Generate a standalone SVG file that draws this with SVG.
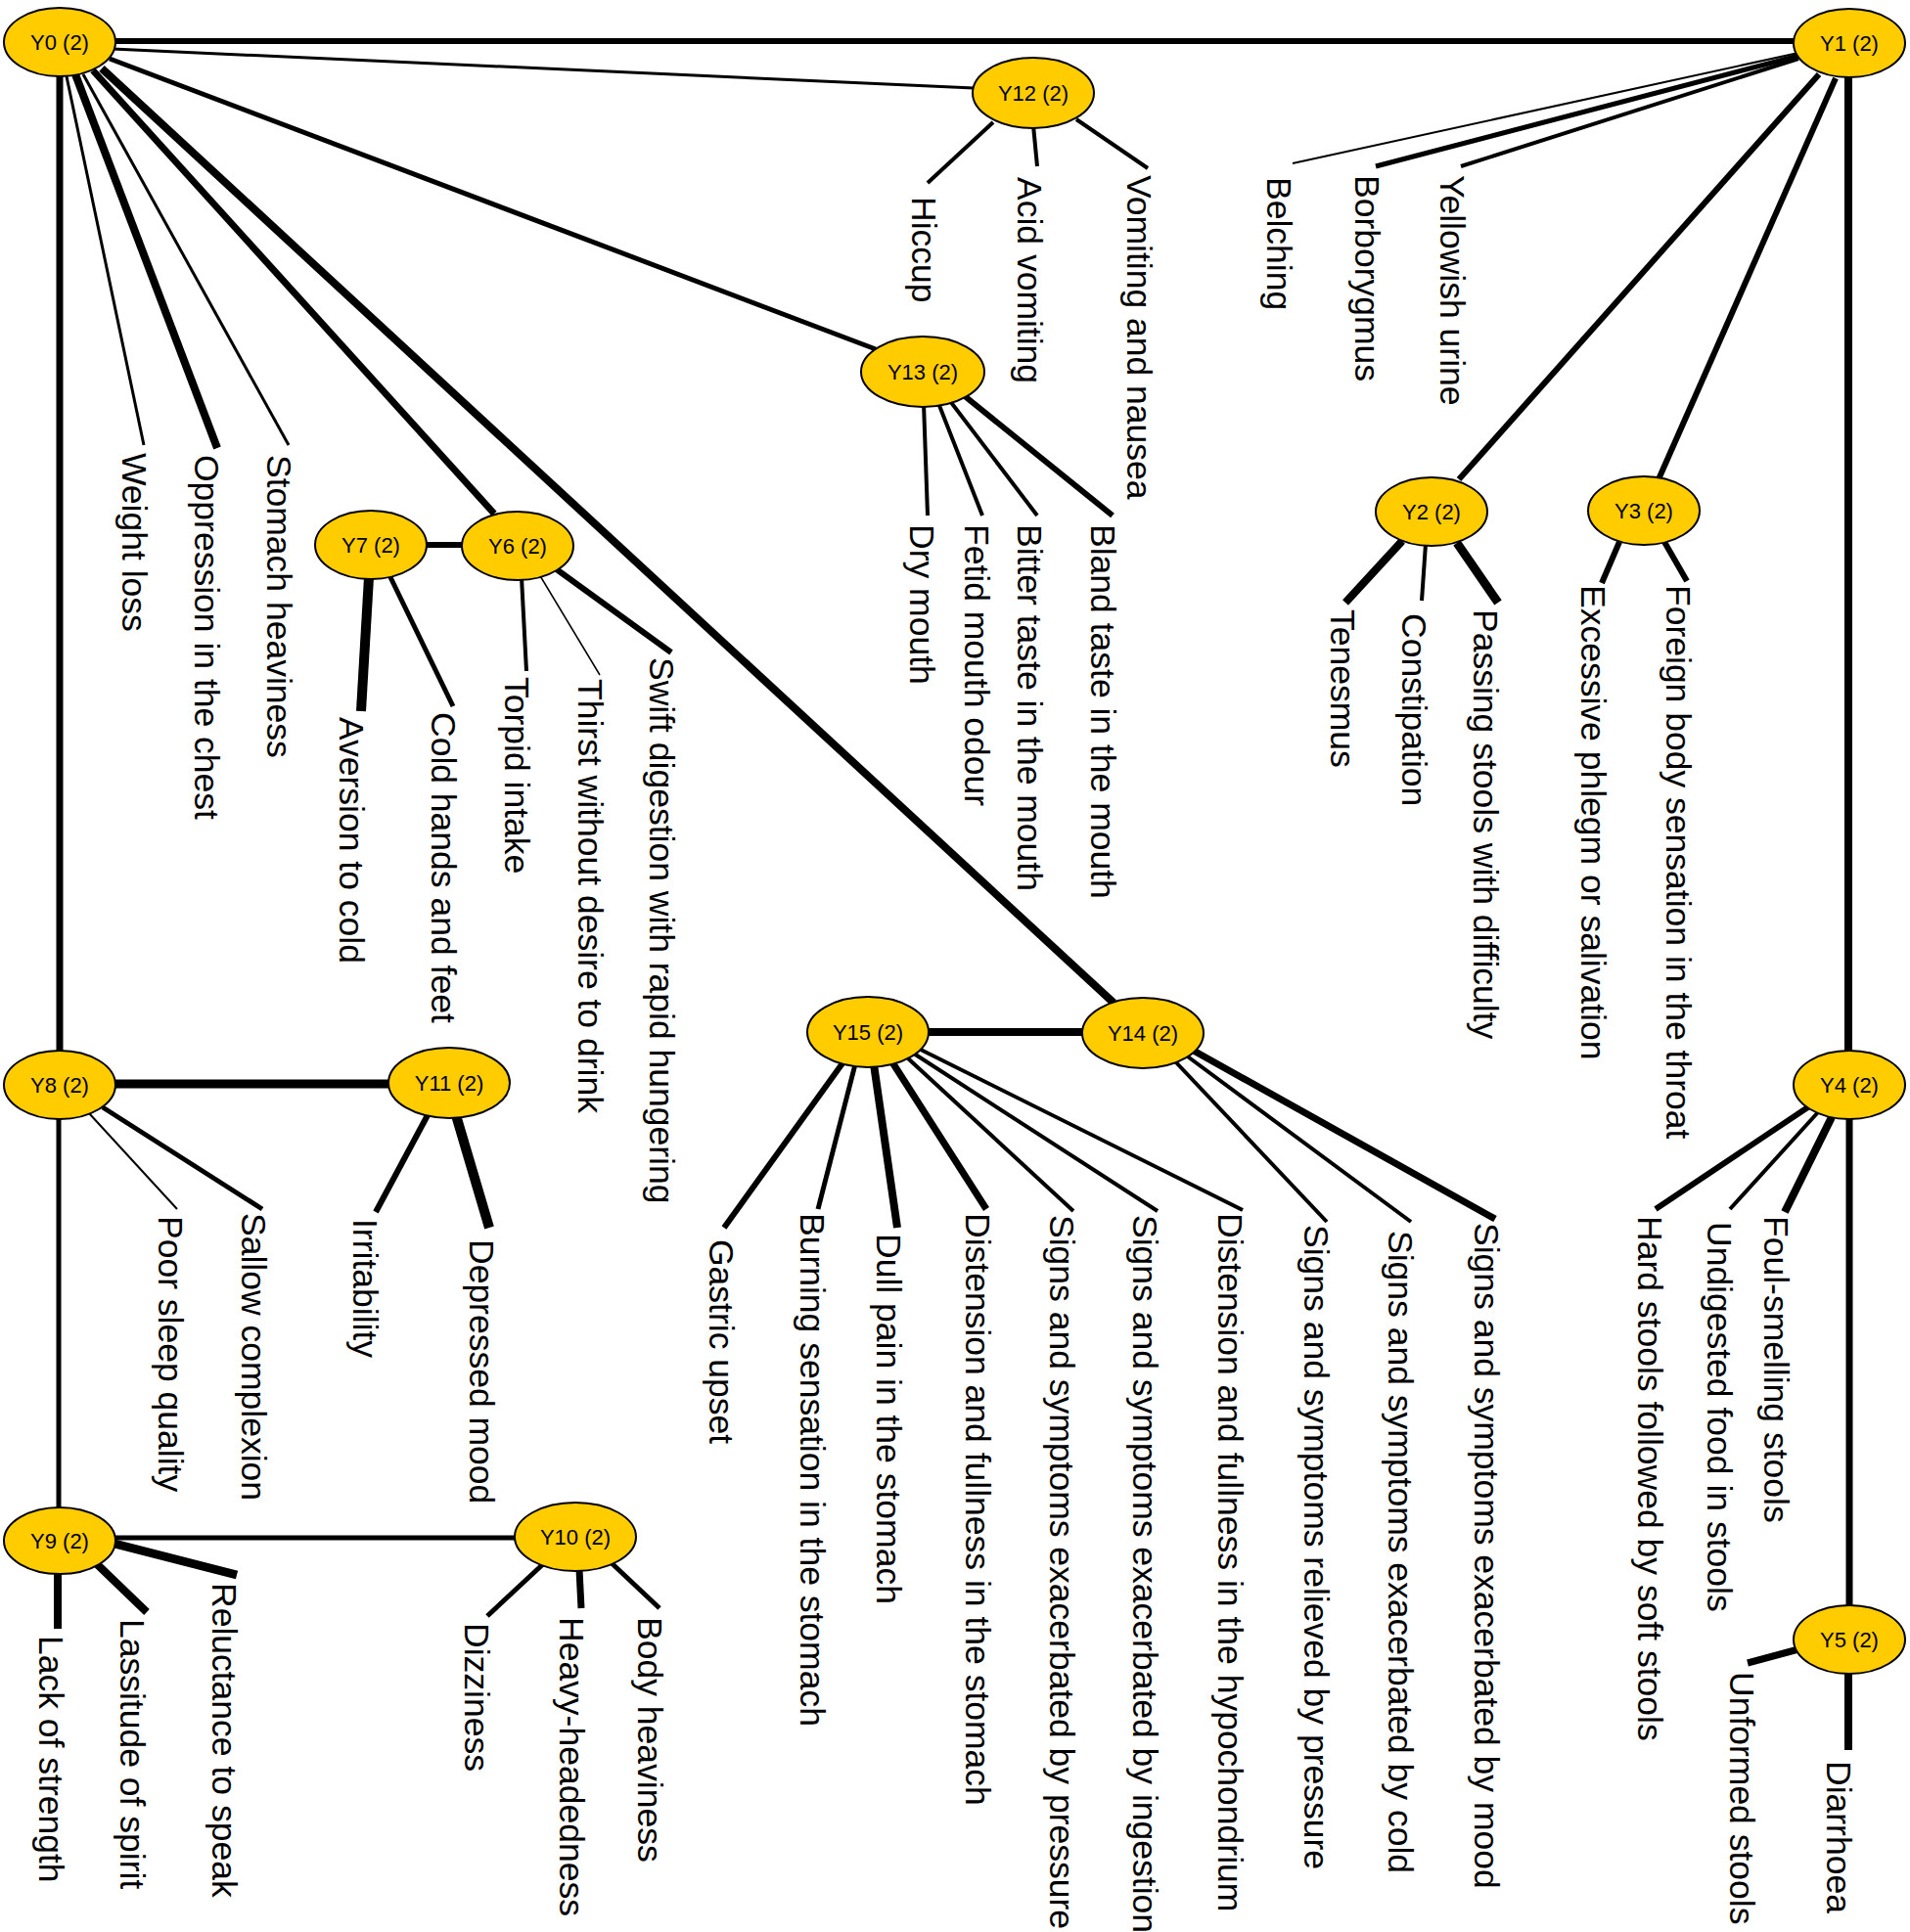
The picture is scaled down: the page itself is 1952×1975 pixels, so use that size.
<svg xmlns="http://www.w3.org/2000/svg" width="1952" height="1975" viewBox="0 0 1952 1975">
<style>
.bg{fill:#fff}
.e line{stroke:#000;stroke-linecap:butt}
.n ellipse{fill:#FFCC00;stroke:#000;stroke-width:2}
.n text{font-family:"Liberation Sans",Arial,sans-serif;font-size:22px;text-anchor:middle;fill:#000}
.lf{font-family:"Liberation Sans",Arial,sans-serif;font-size:35.5px;fill:#000}
</style>
<rect class="bg" x="0" y="0" width="1952" height="1975"/>
<g id="connectors" class="e">
<line x1="100" y1="42" x2="1850" y2="42" stroke-width="6"/>
<line x1="115" y1="50" x2="995" y2="90" stroke-width="3"/>
<line x1="112" y1="60" x2="895" y2="357" stroke-width="5"/>
<line x1="95" y1="72" x2="505" y2="525" stroke-width="7"/>
<line x1="104" y1="70" x2="1138" y2="1025" stroke-width="8"/>
<line x1="61" y1="70" x2="61" y2="1080" stroke-width="7"/>
<line x1="60" y1="1130" x2="60" y2="1550" stroke-width="5"/>
<line x1="100" y1="1108" x2="420" y2="1108" stroke-width="9"/>
<line x1="100" y1="1572" x2="550" y2="1572" stroke-width="5"/>
<line x1="420" y1="557" x2="490" y2="557" stroke-width="6"/>
<line x1="920" y1="1055" x2="1130" y2="1055" stroke-width="8"/>
<line x1="1859" y1="76" x2="1491" y2="490" stroke-width="6"/>
<line x1="1876" y1="80" x2="1695" y2="490" stroke-width="6"/>
<line x1="1889" y1="70" x2="1889" y2="1080" stroke-width="8"/>
<line x1="1890" y1="1130" x2="1890" y2="1650" stroke-width="7"/>
<line x1="68" y1="78" x2="147" y2="455" stroke-width="3"/>
<line x1="77" y1="76" x2="222" y2="458" stroke-width="8"/>
<line x1="85" y1="76" x2="295" y2="455" stroke-width="3"/>
<line x1="1015" y1="125" x2="948" y2="187" stroke-width="4"/>
<line x1="1056" y1="128" x2="1060" y2="170" stroke-width="4"/>
<line x1="1100" y1="122" x2="1173" y2="172" stroke-width="4"/>
<line x1="944" y1="412" x2="948" y2="527" stroke-width="4"/>
<line x1="959" y1="412" x2="1004" y2="527" stroke-width="4"/>
<line x1="971" y1="410" x2="1060" y2="527" stroke-width="4"/>
<line x1="986" y1="405" x2="1137" y2="527" stroke-width="6"/>
<line x1="377" y1="590" x2="369" y2="727" stroke-width="10"/>
<line x1="398" y1="588" x2="463" y2="722" stroke-width="5"/>
<line x1="533" y1="590" x2="538" y2="686" stroke-width="4"/>
<line x1="551" y1="587" x2="613" y2="690" stroke-width="1.5"/>
<line x1="566" y1="580" x2="686" y2="667" stroke-width="6"/>
<line x1="91" y1="1138" x2="181" y2="1236" stroke-width="2"/>
<line x1="105" y1="1132" x2="268" y2="1236" stroke-width="5"/>
<line x1="437" y1="1140" x2="384" y2="1239" stroke-width="6"/>
<line x1="466" y1="1140" x2="500" y2="1255" stroke-width="10"/>
<line x1="59" y1="1600" x2="59" y2="1665" stroke-width="8"/>
<line x1="96" y1="1596" x2="150" y2="1648" stroke-width="8"/>
<line x1="117" y1="1578" x2="242" y2="1610" stroke-width="9"/>
<line x1="556" y1="1598" x2="498" y2="1652" stroke-width="5"/>
<line x1="592" y1="1604" x2="594" y2="1644" stroke-width="7"/>
<line x1="623" y1="1596" x2="674" y2="1644" stroke-width="5"/>
<line x1="861" y1="1087" x2="740" y2="1255" stroke-width="6"/>
<line x1="874" y1="1088" x2="836" y2="1236" stroke-width="5"/>
<line x1="893" y1="1088" x2="917" y2="1255" stroke-width="8"/>
<line x1="912" y1="1086" x2="1008" y2="1236" stroke-width="7"/>
<line x1="928" y1="1082" x2="1097" y2="1238" stroke-width="4"/>
<line x1="934" y1="1077" x2="1183" y2="1238" stroke-width="4"/>
<line x1="941" y1="1073" x2="1270" y2="1237" stroke-width="4"/>
<line x1="1200" y1="1084" x2="1356" y2="1249" stroke-width="4"/>
<line x1="1211" y1="1078" x2="1442" y2="1249" stroke-width="4"/>
<line x1="1218" y1="1073" x2="1528" y2="1246" stroke-width="7"/>
<line x1="1849" y1="1131" x2="1692" y2="1236" stroke-width="6"/>
<line x1="1858" y1="1137" x2="1768" y2="1236" stroke-width="4"/>
<line x1="1872" y1="1142" x2="1824" y2="1239" stroke-width="8"/>
<line x1="1838" y1="1686" x2="1786" y2="1700" stroke-width="7"/>
<line x1="1889" y1="1708" x2="1889" y2="1789" stroke-width="8"/>
<line x1="1838" y1="54" x2="1321" y2="167" stroke-width="2"/>
<line x1="1838" y1="57" x2="1406" y2="170" stroke-width="5"/>
<line x1="1838" y1="60" x2="1493" y2="170" stroke-width="4"/>
<line x1="1433" y1="553" x2="1375" y2="616" stroke-width="8"/>
<line x1="1457" y1="556" x2="1453" y2="614" stroke-width="4"/>
<line x1="1489" y1="555" x2="1531" y2="616" stroke-width="9"/>
<line x1="1655" y1="554" x2="1637" y2="596" stroke-width="6"/>
<line x1="1701" y1="554" x2="1724" y2="594" stroke-width="6"/>
</g>
<g id="Y0" class="n"><ellipse cx="61" cy="43" rx="57" ry="35"/><text x="61" y="43" dy="0.35em">Y0 (2)</text></g>
<g id="Y1" class="n"><ellipse cx="1890" cy="44" rx="57" ry="35"/><text x="1890" y="44" dy="0.35em">Y1 (2)</text></g>
<g id="Y2" class="n"><ellipse cx="1463" cy="523" rx="57" ry="35"/><text x="1463" y="523" dy="0.35em">Y2 (2)</text></g>
<g id="Y3" class="n"><ellipse cx="1680" cy="522" rx="57" ry="35"/><text x="1680" y="522" dy="0.35em">Y3 (2)</text></g>
<g id="Y4" class="n"><ellipse cx="1890" cy="1109" rx="57" ry="35"/><text x="1890" y="1109" dy="0.35em">Y4 (2)</text></g>
<g id="Y5" class="n"><ellipse cx="1890" cy="1676" rx="57" ry="35"/><text x="1890" y="1676" dy="0.35em">Y5 (2)</text></g>
<g id="Y6" class="n"><ellipse cx="529" cy="558" rx="57" ry="35"/><text x="529" y="558" dy="0.35em">Y6 (2)</text></g>
<g id="Y7" class="n"><ellipse cx="379" cy="557" rx="57" ry="35"/><text x="379" y="557" dy="0.35em">Y7 (2)</text></g>
<g id="Y8" class="n"><ellipse cx="61" cy="1109" rx="57" ry="35"/><text x="61" y="1109" dy="0.35em">Y8 (2)</text></g>
<g id="Y9" class="n"><ellipse cx="61" cy="1575" rx="57" ry="34"/><text x="61" y="1575" dy="0.35em">Y9 (2)</text></g>
<g id="Y10" class="n"><ellipse cx="588" cy="1571" rx="62" ry="35"/><text x="588" y="1571" dy="0.35em">Y10 (2)</text></g>
<g id="Y11" class="n"><ellipse cx="459" cy="1107" rx="62" ry="36"/><text x="459" y="1107" dy="0.35em">Y11 (2)</text></g>
<g id="Y12" class="n"><ellipse cx="1056" cy="95" rx="62" ry="36"/><text x="1056" y="95" dy="0.35em">Y12 (2)</text></g>
<g id="Y13" class="n"><ellipse cx="943" cy="380" rx="63" ry="36"/><text x="943" y="380" dy="0.35em">Y13 (2)</text></g>
<g id="Y14" class="n"><ellipse cx="1168" cy="1056" rx="62" ry="36"/><text x="1168" y="1056" dy="0.35em">Y14 (2)</text></g>
<g id="Y15" class="n"><ellipse cx="887" cy="1055" rx="62" ry="36"/><text x="887" y="1055" dy="0.35em">Y15 (2)</text></g>
<g id="labels">
<text class="lf" transform="translate(124.6,463) rotate(90)">Weight loss</text>
<text class="lf" transform="translate(198.6,465) rotate(90)">Oppression in the chest</text>
<text class="lf" transform="translate(272.6,465) rotate(90)">Stomach heaviness</text>
<text class="lf" transform="translate(931.6,201) rotate(90)">Hiccup</text>
<text class="lf" transform="translate(1039.6,181) rotate(90)">Acid vomiting</text>
<text class="lf" transform="translate(1151.6,179) rotate(90)">Vomiting and nausea</text>
<text class="lf" transform="translate(929.6,536) rotate(90)">Dry mouth</text>
<text class="lf" transform="translate(985.6,536) rotate(90)">Fetid mouth odour</text>
<text class="lf" transform="translate(1039.6,536) rotate(90)">Bitter taste in the mouth</text>
<text class="lf" transform="translate(1114.6,536) rotate(90)">Bland taste in the mouth</text>
<text class="lf" transform="translate(346.6,733) rotate(90)">Aversion to cold</text>
<text class="lf" transform="translate(440.6,728) rotate(90)">Cold hands and feet</text>
<text class="lf" transform="translate(515.6,692) rotate(90)">Torpid intake</text>
<text class="lf" transform="translate(590.6,694) rotate(90)">Thirst without desire to drink</text>
<text class="lf" transform="translate(663.6,672) rotate(90)">Swift digestion with rapid hungering</text>
<text class="lf" transform="translate(161.6,1243) rotate(90)">Poor sleep quality</text>
<text class="lf" transform="translate(246.6,1240) rotate(90)">Sallow complexion</text>
<text class="lf" transform="translate(360.6,1246) rotate(90)">Irritability</text>
<text class="lf" transform="translate(479.6,1267) rotate(90)">Depressed mood</text>
<text class="lf" transform="translate(39.6,1672) rotate(90)">Lack of strength</text>
<text class="lf" transform="translate(122.6,1655) rotate(90)">Lassitude of spirit</text>
<text class="lf" transform="translate(216.6,1618) rotate(90)">Reluctance to speak</text>
<text class="lf" transform="translate(474.6,1659) rotate(90)">Dizziness</text>
<text class="lf" transform="translate(571.6,1653) rotate(90)">Heavy-headedness</text>
<text class="lf" transform="translate(651.6,1653) rotate(90)">Body heaviness</text>
<text class="lf" transform="translate(724.6,1267) rotate(90)">Gastric upset</text>
<text class="lf" transform="translate(817.6,1240) rotate(90)">Burning sensation in the stomach</text>
<text class="lf" transform="translate(895.6,1261) rotate(90)">Dull pain in the stomach</text>
<text class="lf" transform="translate(986.6,1240) rotate(90)">Distension and fullness in the stomach</text>
<text class="lf" transform="translate(1072.6,1242) rotate(90)">Signs and symptoms exacerbated by pressure</text>
<text class="lf" transform="translate(1157.6,1242) rotate(90)">Signs and symptoms exacerbated by ingestion</text>
<text class="lf" transform="translate(1244.6,1240) rotate(90)">Distension and fullness in the hypochondrium</text>
<text class="lf" transform="translate(1332.6,1252) rotate(90)">Signs and symptoms relieved by pressure</text>
<text class="lf" transform="translate(1418.6,1258) rotate(90)">Signs and symptoms exacerbated by cold</text>
<text class="lf" transform="translate(1506.6,1250) rotate(90)">Signs and symptoms exacerbated by mood</text>
<text class="lf" transform="translate(1673.6,1243) rotate(90)">Hard stools followed by soft stools</text>
<text class="lf" transform="translate(1744.6,1249) rotate(90)">Undigested food in stools</text>
<text class="lf" transform="translate(1802.6,1243) rotate(90)">Foul-smelling stools</text>
<text class="lf" transform="translate(1767.6,1709) rotate(90)">Unformed stools</text>
<text class="lf" transform="translate(1866.6,1800) rotate(90)">Diarrhoea</text>
<text class="lf" transform="translate(1294.6,181) rotate(90)">Belching</text>
<text class="lf" transform="translate(1384.6,179) rotate(90)">Borborygmus</text>
<text class="lf" transform="translate(1471.6,179) rotate(90)">Yellowish urine</text>
<text class="lf" transform="translate(1359.6,623) rotate(90)">Tenesmus</text>
<text class="lf" transform="translate(1432.6,627) rotate(90)">Constipation</text>
<text class="lf" transform="translate(1505.6,623) rotate(90)">Passing stools with difficulty</text>
<text class="lf" transform="translate(1615.6,598) rotate(90)">Excessive phlegm or salivation</text>
<text class="lf" transform="translate(1702.6,598) rotate(90)">Foreign body sensation in the throat</text>
</g>
</svg>
